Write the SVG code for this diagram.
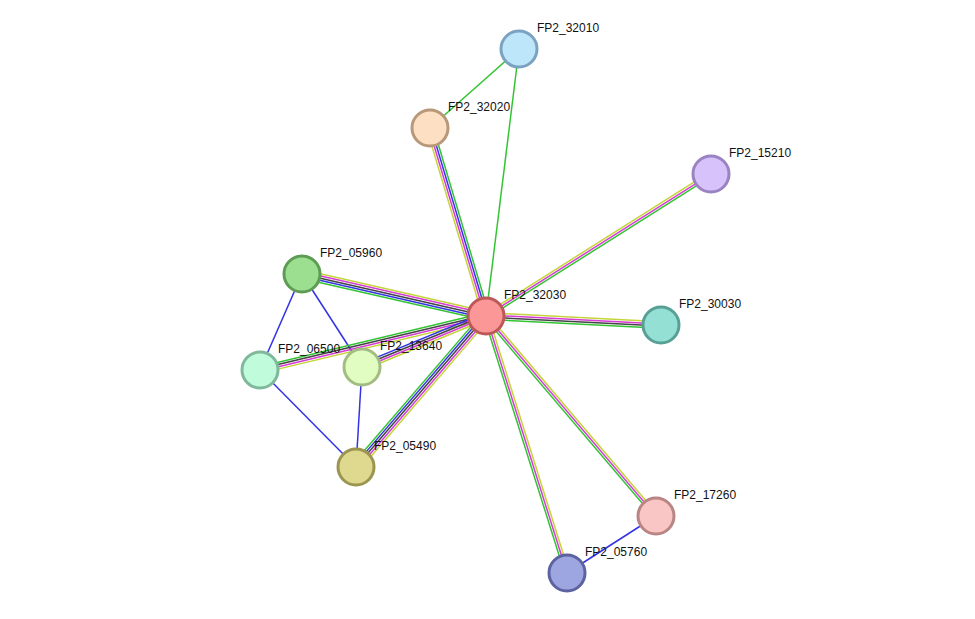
<svg xmlns="http://www.w3.org/2000/svg" width="975" height="619" viewBox="0 0 975 619">
<style>
.g{stroke:#33c433}.b{stroke:#3333e6}.k{stroke:#444}.m{stroke:#d63bd6}.y{stroke:#c4d43a}
line{stroke-width:1.5;fill:none}
circle{stroke-width:3}
text{font-family:"Liberation Sans",Arial,sans-serif;font-size:12px;fill:#111}
</style>
<rect width="975" height="619" fill="#fff"/>
<g id="connectors">
<line class="g" x1="486" y1="316" x2="519" y2="49"/>
<line class="g" x1="430" y1="128" x2="519" y2="49"/>
<line class="b" x1="302" y1="274" x2="260" y2="370"/>
<line class="b" x1="302" y1="274" x2="362" y2="367"/>
<line class="b" x1="260" y1="370" x2="356" y2="467"/>
<line class="b" x1="362" y1="367" x2="356" y2="467"/>
<line class="b" x1="656" y1="516" x2="567" y2="573"/>
<g transform="translate(486,316) rotate(192.86)">
<line class="g" x1="0" y1="-4.4" x2="189" y2="-4.4"/><line class="b" x1="0" y1="-2.2" x2="189" y2="-2.2"/><line class="k" x1="0" y1="0" x2="189" y2="0"/><line class="m" x1="0" y1="2.2" x2="189" y2="2.2"/><line class="y" x1="0" y1="4.4" x2="189" y2="4.4"/></g>
<g transform="translate(486,316) rotate(166.56)">
<line class="g" x1="0" y1="3.3" x2="232" y2="3.3"/><line class="k" x1="0" y1="1.1" x2="232" y2="1.1"/><line class="m" x1="0" y1="-1.1" x2="232" y2="-1.1"/><line class="y" x1="0" y1="-3.3" x2="232" y2="-3.3"/></g>
<g transform="translate(486,316) rotate(157.64)">
<line class="b" x1="0" y1="3.3" x2="134" y2="3.3"/><line class="k" x1="0" y1="1.1" x2="134" y2="1.1"/><line class="m" x1="0" y1="-1.1" x2="134" y2="-1.1"/><line class="y" x1="0" y1="-3.3" x2="134" y2="-3.3"/></g>
<g transform="translate(486,316) rotate(130.73)">
<line class="g" x1="0" y1="4.4" x2="199" y2="4.4"/><line class="b" x1="0" y1="2.2" x2="199" y2="2.2"/><line class="k" x1="0" y1="0" x2="199" y2="0"/><line class="m" x1="0" y1="-2.2" x2="199" y2="-2.2"/><line class="y" x1="0" y1="-4.4" x2="199" y2="-4.4"/></g>
<g transform="translate(486,316) rotate(-106.59)">
<line class="y" x1="0" y1="-3.3" x2="196" y2="-3.3"/><line class="m" x1="0" y1="-1.1" x2="196" y2="-1.1"/><line class="b" x1="0" y1="1.1" x2="196" y2="1.1"/><line class="g" x1="0" y1="3.3" x2="196" y2="3.3"/></g>
<g transform="translate(486,316) rotate(-32.25)">
<line class="y" x1="0" y1="-2.2" x2="266" y2="-2.2"/><line class="m" x1="0" y1="0" x2="266" y2="0"/><line class="g" x1="0" y1="2.2" x2="266" y2="2.2"/></g>
<g transform="translate(486,316) rotate(2.94)">
<line class="y" x1="0" y1="-3.3" x2="175" y2="-3.3"/><line class="m" x1="0" y1="-1.1" x2="175" y2="-1.1"/><line class="k" x1="0" y1="1.1" x2="175" y2="1.1"/><line class="g" x1="0" y1="3.3" x2="175" y2="3.3"/></g>
<g transform="translate(486,316) rotate(49.64)">
<line class="y" x1="0" y1="-2.2" x2="262" y2="-2.2"/><line class="m" x1="0" y1="0" x2="262" y2="0"/><line class="g" x1="0" y1="2.2" x2="262" y2="2.2"/></g>
<g transform="translate(486,316) rotate(72.51)">
<line class="y" x1="0" y1="-2.2" x2="269" y2="-2.2"/><line class="m" x1="0" y1="0" x2="269" y2="0"/><line class="g" x1="0" y1="2.2" x2="269" y2="2.2"/></g>
</g>
<g id="FP2_32010"><circle cx="519" cy="49" r="18" fill="#bde6fb" stroke="#7ba3c1"/><text x="537" y="32">FP2_32010</text></g>
<g id="FP2_32020"><circle cx="430" cy="128" r="18" fill="#fde0c4" stroke="#b9987a"/><text x="448" y="111">FP2_32020</text></g>
<g id="FP2_15210"><circle cx="711" cy="174" r="18" fill="#d8c2fc" stroke="#9a83c0"/><text x="729" y="157">FP2_15210</text></g>
<g id="FP2_05960"><circle cx="302" cy="274" r="18" fill="#9ddf90" stroke="#5e9c55"/><text x="320" y="257">FP2_05960</text></g>
<g id="FP2_32030"><circle cx="486" cy="316" r="18" fill="#fc9797" stroke="#bc5858"/><text x="504" y="299">FP2_32030</text></g>
<g id="FP2_30030"><circle cx="661" cy="325" r="18" fill="#94e0d4" stroke="#58a095"/><text x="679" y="308">FP2_30030</text></g>
<g id="FP2_06500"><circle cx="260" cy="370" r="18" fill="#c0fbdb" stroke="#7fb89b"/><text x="278" y="353">FP2_06500</text></g>
<g id="FP2_13640"><circle cx="362" cy="367" r="18" fill="#e1fdc1" stroke="#a2bc82"/><text x="380" y="350">FP2_13640</text></g>
<g id="FP2_05490"><circle cx="356" cy="467" r="18" fill="#dfd88f" stroke="#9c9550"/><text x="374" y="450">FP2_05490</text></g>
<g id="FP2_17260"><circle cx="656" cy="516" r="18" fill="#f9c5c5" stroke="#b98585"/><text x="674" y="499">FP2_17260</text></g>
<g id="FP2_05760"><circle cx="567" cy="573" r="18" fill="#9ea6e1" stroke="#5d63a0"/><text x="585" y="556">FP2_05760</text></g>
</svg>
